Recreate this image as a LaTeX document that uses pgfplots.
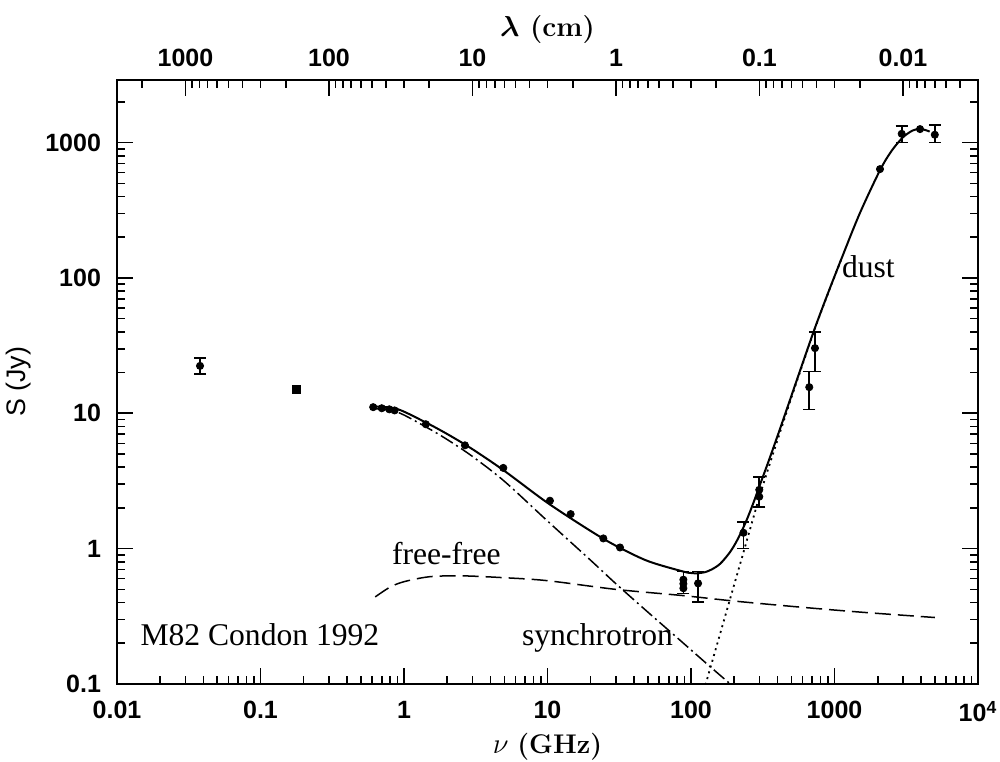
\documentclass[border=0pt]{standalone}
\usepackage{pgfplots}
\pgfplotsset{compat=1.18}
\usepackage{fontspec}
\newfontfamily\hel{Liberation Sans}
\newfontfamily\tnr{Liberation Serif}

\pgfplotstableread{
nu S
0.63 11.24
0.9 10.75
1.4 8.62
2.0 7.03
3.0 5.43
5.0 3.76
10 2.18
20 1.35
30 1.05
50 0.81
88 0.678
100 0.661
110 0.658
125 0.670
140 0.704
160 0.775
187 0.943
210 1.157
240 1.556
270 2.13
299 2.87
350 4.53
417 7.67
500 13.4
600 23.5
731 42.8
900 77
1122 140
1500 300
2075 625
2500 869
3000 1094
3500 1227
3945 1262
4400 1228
4600 1205
}\tabtotal

\pgfplotstableread{
nu S
0.63 10.8
0.9 10.2
1.4 8.0
2.0 6.4
3.0 4.8
5.0 3.15
10 1.6
20 0.82
30 0.55
50 0.34
80 0.22
132 0.138
190 0.099
}\tabsync

\pgfplotstableread{
nu S
0.63 0.44
0.8 0.52
1.0 0.57
1.5 0.62
2.5 0.63
5 0.61
10 0.58
30 0.50
88 0.45
200 0.41
575 0.37
1500 0.34
5000 0.31
}\tabff

\pgfplotstableread{
nu S
120 0.081
125 0.0953
150 0.187
187 0.423
210 0.649
240 1.064
270 1.65
299 2.40
350 4.08
417 7.23
500 13.0
600 23.1
731 42.4
900 76.6
1122 139.6
}\tabdust

\pgfplotstableread{
nu S ep em
0.0379 22.4 3.1 2.9
88.5 0.55 0.126 0.083
112 0.554 0.122 0.149
232 1.31 0.27 0.31
299 2.72 0.68 0.68
667 15.6 4.7 4.9
731 30.3 9.7 10.0
2940 1161 169 161
5000 1143 209 143
}\tabpterr

\pgfplotstableread{
nu S
0.61 11.1
0.70 10.9
0.79 10.7
0.86 10.5
1.42 8.3
2.66 5.8
4.92 3.95
10.4 2.26
14.5 1.8
24.5 1.19
32 1.02
88.5 0.59
88.5 0.51
299 2.42
2075 637
3945 1258
}\tabptnoerr

\begin{document}
\begin{tikzpicture}
\begin{axis}[
  name=main,
  scale only axis, width=430.5pt, height=302pt,
  xmode=log, ymode=log,
  xmin=0.01, xmax=10000, ymin=0.1, ymax=2900,
  axis line style={line width=1pt},
  tick style={line width=0.8pt, black},
  tick align=inside,
  major tick length=8pt, minor tick length=4pt,
  xtick pos=left, ytick pos=both, yticklabel pos=left,
  xtick={0.01,0.1,1,10,100,1000,10000},
  xticklabels={0.01,0.1,1,10,100,1000,10\textsuperscript{4}},
  minor xtick={0.02,0.03,0.04,0.05,0.06,0.07,0.08,0.09,0.2,0.3,0.4,0.5,0.6,0.7,0.8,0.9,2,3,4,5,6,7,8,9,20,30,40,50,60,70,80,90,200,300,400,500,600,700,800,900,2000,3000,4000,5000,6000,7000,8000,9000},
  ytick={0.1,1,10,100,1000},
  yticklabels={0.1,1,10,100,1000},
  minor ytick={0.2,0.3,0.4,0.5,0.6,0.7,0.8,0.9,2,3,4,5,6,7,8,9,20,30,40,50,60,70,80,90,200,300,400,500,600,700,800,900,2000},
  ticklabel style={font=\hel\bfseries\fontsize{12.5}{13.5}\selectfont},
  xticklabel style={yshift=-5pt},
  yticklabel style={xshift=-4.5pt},
  xlabel={$\nu$ \textbf{(GHz)}},
  ylabel={\hel S (Jy)},
  xlabel style={font=\fontsize{13.5}{14}\selectfont, at={(axis description cs:0.5,0)}, anchor=center, yshift=-31.5pt},
  ylabel style={font=\fontsize{13.4}{14}\selectfont, at={(axis description cs:0,0.5)}, anchor=center, yshift=49pt},
  error bars/error bar style={line width=0.8pt, black},
  error bars/error mark options={rotate=90, mark size=3pt, line width=0.8pt, black},
]
\addplot[black, line width=0.75pt, dash pattern=on 8pt off 3.5pt, smooth] table[x=nu,y=S]{\tabff};
\addplot[black, line width=0.75pt, dash pattern=on 7pt off 2pt on 1pt off 2pt, smooth] table[x=nu,y=S]{\tabsync};
\addplot[black, line width=0.9pt, dash pattern=on 1pt off 2pt, smooth] table[x=nu,y=S]{\tabdust};
\addplot[black, line width=1pt, smooth] table[x=nu,y=S]{\tabtotal};
\addplot[only marks, mark=*, mark size=1.8pt, black,
  error bars/.cd, y dir=both, y explicit]
  table[x=nu, y=S, y error plus=ep, y error minus=em]{\tabpterr};
\addplot[only marks, mark=*, mark size=1.8pt, black] table[x=nu,y=S]{\tabptnoerr};
\addplot[only marks, mark=square*, mark size=2pt, black] coordinates {(0.179,15.1)};
\node[anchor=base west, inner sep=0, font=\tnr\fontsize{15.8}{17}\selectfont] at (axis cs:0.0145,0.194) {M82 Condon 1992};
\node[anchor=base west, inner sep=0, font=\tnr\fontsize{15.8}{17}\selectfont] at (axis cs:0.82,0.758) {free-free};
\node[anchor=base west, inner sep=0, font=\tnr\fontsize{15.8}{17}\selectfont] at (axis cs:6.6,0.194) {synchrotron};
\node[anchor=base west, inner sep=0, font=\tnr\fontsize{15.8}{17}\selectfont] at (axis cs:1122,100) {dust};
\end{axis}
\begin{axis}[
  at={(main.south west)}, anchor=south west,
  scale only axis, width=430.5pt, height=302pt,
  xmode=log, x dir=reverse,
  xmin=0.003, xmax=3000, ymin=0, ymax=1,
  axis line style={line width=1pt},
  tick style={line width=0.8pt, black},
  tick align=inside,
  major tick length=8pt, minor tick length=4pt,
  xtick pos=right, xticklabel pos=right,
  ytick=\empty,
  xtick={0.01,0.1,1,10,100,1000},
  xticklabels={0.01,0.1,1,10,100,1000},
  minor xtick={0.004,0.005,0.006,0.007,0.008,0.009,0.02,0.03,0.04,0.05,0.06,0.07,0.08,0.09,0.2,0.3,0.4,0.5,0.6,0.7,0.8,0.9,2,3,4,5,6,7,8,9,20,30,40,50,60,70,80,90,200,300,400,500,600,700,800,900,2000},
  ticklabel style={font=\hel\bfseries\fontsize{12.5}{13.5}\selectfont},
  xticklabel style={yshift=3pt},
  xlabel={\textbf{\boldmath$\lambda$ (cm)}},
  xlabel style={font=\fontsize{14}{15}\selectfont, at={(axis description cs:0.5,1)}, anchor=center, yshift=25pt},
]
\addplot[draw=none, mark=none] coordinates {(1,0.5)};
\end{axis}
\pgfresetboundingbox
\path[use as bounding box] (main.south west) ++(-58.5pt,-38.5pt) rectangle ++(500pt,380.5pt);
\end{tikzpicture}
\end{document}
